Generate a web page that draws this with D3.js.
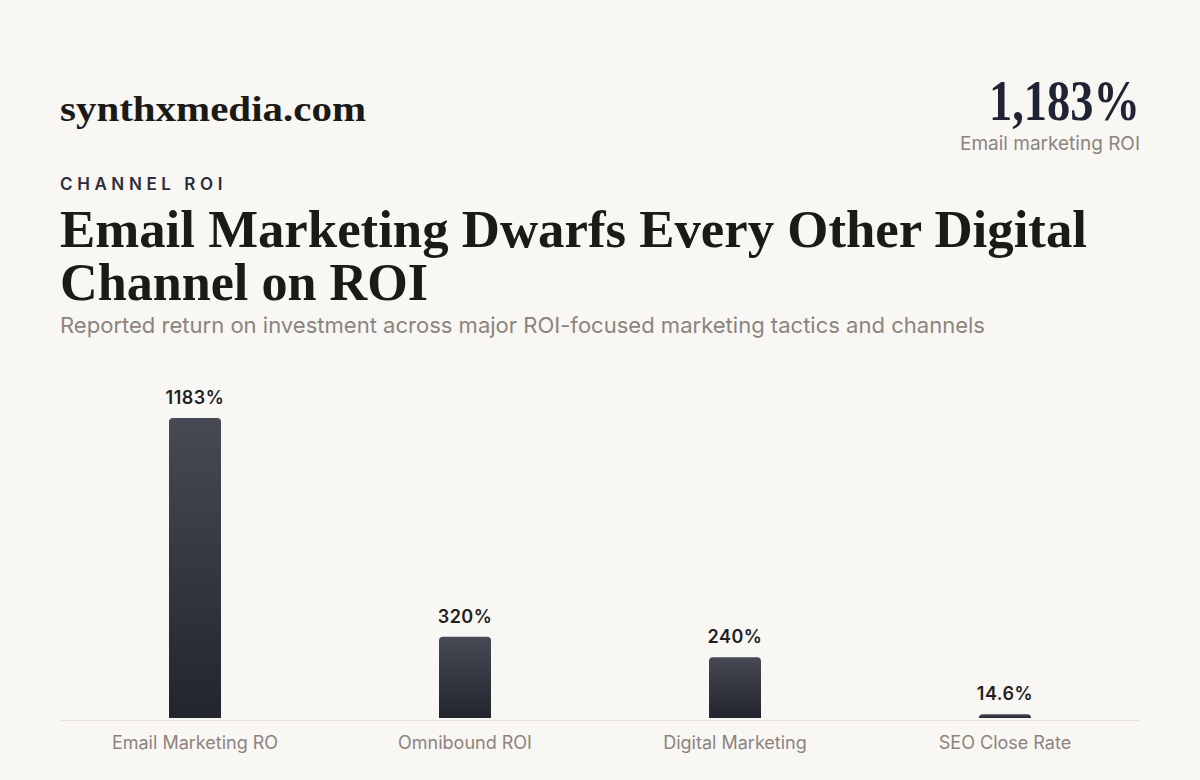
<!DOCTYPE html>
<html><head><meta charset="utf-8">
<script src="https://cdn.jsdelivr.net/npm/d3@7"></script>
<style>
html,body{margin:0;padding:0;background:#f8f7f4;}
svg{display:block;}
</style></head>
<body>
<script>
const categories = ["Email Marketing RO", "Omnibound ROI", "Digital Marketing", "SEO Close Rate"];
const values = [1183, 320, 240, 14.6];
const valueLabels = ["1183%", "320%", "240%", "14.6%"];

const W = 1200, H = 780;
const svg = d3.select("body").append("svg").attr("width", W).attr("height", H);
svg.append("rect").attr("width", W).attr("height", H).attr("fill", "#f8f7f4");

const serif = "'Liberation Serif', 'DejaVu Serif', serif";
const sans = "Inter, 'Noto Sans', sans-serif";

// Header
svg.append("text").attr("x", 60).attr("y", 121)
  .attr("font-family", serif).attr("font-weight", 700).attr("font-size", 36)
  .attr("fill", "#1c1a17").attr("textLength", 306).attr("lengthAdjust", "spacingAndGlyphs")
  .text("synthxmedia.com");

svg.append("text").attr("x", 1140).attr("y", 120).attr("text-anchor", "end")
  .attr("font-family", serif).attr("font-weight", 700).attr("font-size", 58)
  .attr("fill", "#1f2333").attr("textLength", 151).attr("lengthAdjust", "spacingAndGlyphs")
  .text("1,183%");
svg.append("text").attr("x", 1140).attr("y", 150).attr("text-anchor", "end")
  .attr("font-family", sans).attr("font-size", 19).attr("fill", "#8c847c")
  .text("Email marketing ROI");

svg.append("text").attr("x", 60).attr("y", 190)
  .attr("font-family", sans).attr("font-weight", 600).attr("font-size", 17)
  .attr("letter-spacing", "4.6px").attr("fill", "#2a2d3a")
  .text("CHANNEL ROI");

svg.append("text").attr("x", 60).attr("y", 247)
  .attr("font-family", serif).attr("font-weight", 700).attr("font-size", 52)
  .attr("fill", "#1c1a17").attr("textLength", 1027).attr("lengthAdjust", "spacingAndGlyphs")
  .text("Email Marketing Dwarfs Every Other Digital");
svg.append("text").attr("x", 60).attr("y", 300)
  .attr("font-family", serif).attr("font-weight", 700).attr("font-size", 52)
  .attr("fill", "#1c1a17").attr("textLength", 368).attr("lengthAdjust", "spacingAndGlyphs")
  .text("Channel on ROI");

svg.append("text").attr("x", 60).attr("y", 333)
  .attr("font-family", sans).attr("font-size", 22).attr("fill", "#8c847c")
  .attr("textLength", 925).attr("lengthAdjust", "spacingAndGlyphs")
  .text("Reported return on investment across major ROI-focused marketing tactics and channels");

// Chart
const x = d3.scaleBand().domain(categories).range([60, 1140]).paddingInner(0).paddingOuter(0);
const y = d3.scaleLinear().domain([0, 1183]).range([718, 418]);
const barW = 52;

const defs = svg.append("defs");
const grad = defs.append("linearGradient").attr("id", "barGrad")
  .attr("x1", 0).attr("y1", 0).attr("x2", 0).attr("y2", 1);
grad.append("stop").attr("offset", "0%").attr("stop-color", "#474954");
grad.append("stop").attr("offset", "100%").attr("stop-color", "#22252e");

function barPath(x0, y0, w, h, r) {
  r = Math.min(r, h, w / 2);
  return `M${x0},${y0 + h}V${y0 + r}Q${x0},${y0} ${x0 + r},${y0}H${x0 + w - r}Q${x0 + w},${y0} ${x0 + w},${y0 + r}V${y0 + h}Z`;
}

const data = categories.map((c, i) => ({c, v: values[i], l: valueLabels[i]}));

svg.append("g").selectAll("path").data(data).join("path")
  .attr("d", d => {
    const cx = x(d.c) + x.bandwidth() / 2;
    return barPath(cx - barW / 2, y(d.v), barW, y(0) - y(d.v), 4);
  })
  .attr("fill", "url(#barGrad)");

svg.append("g").selectAll("text").data(data).join("text")
  .attr("x", d => x(d.c) + x.bandwidth() / 2)
  .attr("y", d => y(d.v) - 14)
  .attr("text-anchor", "middle")
  .attr("font-family", sans).attr("font-weight", 600).attr("font-size", 18)
  .attr("letter-spacing", "0.5px")
  .attr("fill", "#1f1f22")
  .text(d => d.l);

// axis baseline
svg.append("line").attr("x1", 60).attr("x2", 1140).attr("y1", 720.5).attr("y2", 720.5)
  .attr("stroke", "#ebe2d8").attr("stroke-width", 1);

const xAxis = svg.append("g").attr("transform", "translate(0,720)")
  .call(d3.axisBottom(x).tickSize(0).tickPadding(10));
xAxis.select(".domain").remove();
xAxis.selectAll("text").attr("font-family", sans).attr("font-size", 18).attr("fill", "#8c847c")
  .attr("dy", "0.71em").attr("y", 16);
</script>
</body></html>
